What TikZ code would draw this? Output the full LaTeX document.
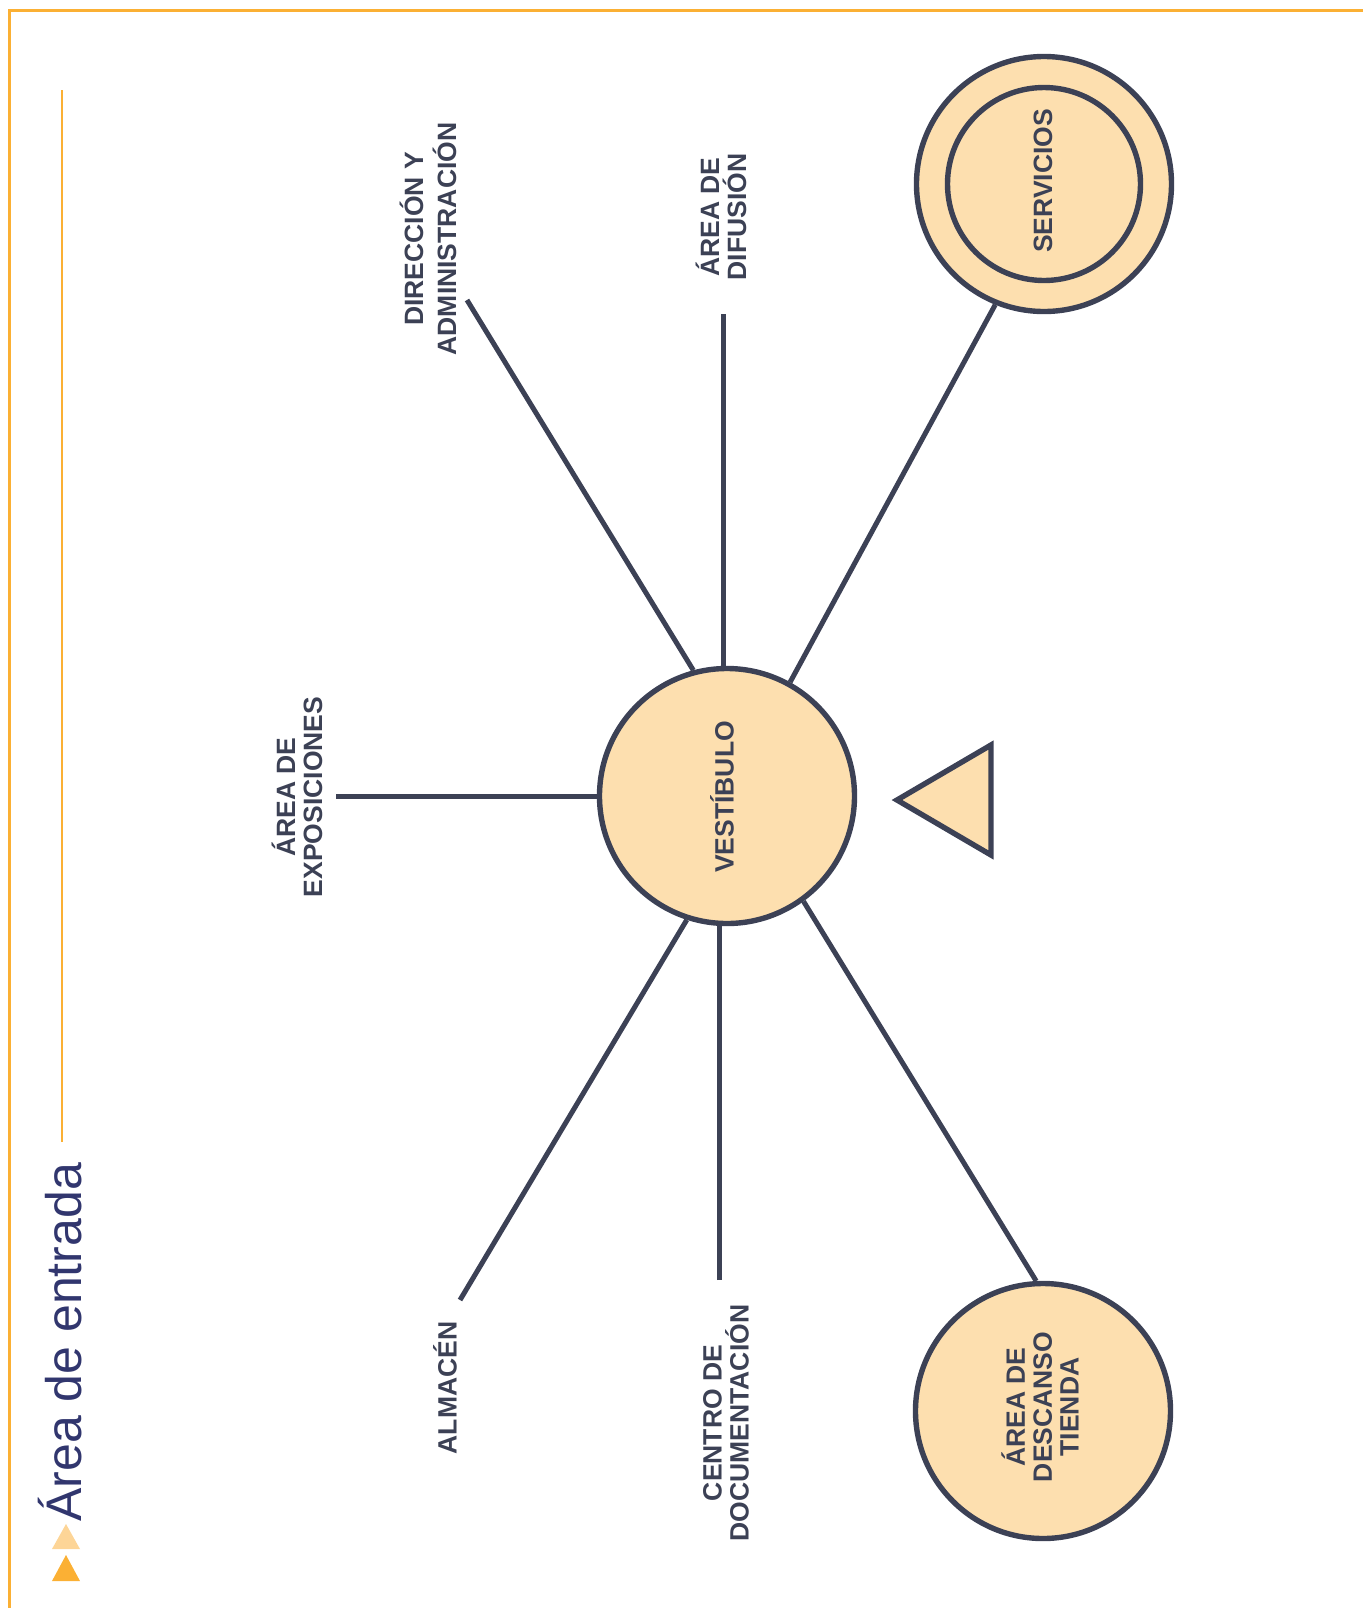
\documentclass[tikz,border=0pt]{standalone}
\usepackage{fontspec}
\setmainfont{Liberation Sans}
\usepackage{tikz}
\definecolor{navy}{HTML}{3C4155}
\definecolor{peach}{HTML}{FDDFAF}
\definecolor{amber}{HTML}{FBB034}
\definecolor{amberlt}{HTML}{FDD597}
\definecolor{titleblue}{HTML}{31366E}

\begin{document}
\begin{tikzpicture}[x=0.5pt, y=-0.5pt]
    \tikzstyle{room} = [circle, draw=navy, fill=peach, line width=2.7pt, inner sep=0pt, minimum size=127.5pt]
    \tikzstyle{lbl} = [text=navy, font=\fontsize{13.25}{13.4}\selectfont\bfseries, align=center, rotate=90, inner sep=0pt]
    \tikzstyle{link} = [draw=navy, line width=2.5pt]

    \useasboundingbox (0,0) rectangle (1363,1608);

    % Frame
    \draw[amber, line width=1.5pt] (9,1608) -- (9,10) -- (1363,10);
    \draw[amber, line width=1.2pt] (62,90) -- (62,1142);

    % Title
    \node[anchor=base west, rotate=90, inner sep=0pt, text=titleblue, font=\fontsize{25}{30}\selectfont] (title) at (82,1522) {Área de entrada};
    \fill[amberlt] (66,1524) -- (80,1549) -- (52,1549) -- cycle;
    \fill[amber] (66,1555) -- (80,1581) -- (52,1581) -- cycle;

    % Rooms
    \node[room] (vest) at (727,796) {};
    \node[room] (serv) at (1044,184) {};
    \node[room, minimum size=96.5pt] (servin) at (1044,184) {};
    \node[room] (desc) at (1043,1411) {};

    % Entrance
    \draw[navy, fill=peach, line width=2.7pt] (897,800) -- (991,745) -- (991,855) -- cycle;

    % Labels
    \node[lbl] (vestlbl) at (722,797) {VESTÍBULO};
    \node[lbl] (servlbl) at (1043,181) {SERVICIOS};
    \node[lbl] (desclbl) at (1040,1407) {ÁREA DE\\DESCANSO\\TIENDA};
    \node[lbl] (expolbl) at (297,797) {ÁREA DE\\EXPOSICIONES};
    \node[lbl] (dirlbl) at (428,239) {DIRECCIÓN Y\\[3pt]ADMINISTRACIÓN};
    \node[lbl] (diflbl) at (721,217) {ÁREA DE\\DIFUSIÓN};
    \node[lbl] (almlbl) at (445,1388) {ALMACÉN};
    \node[lbl] (cenlbl) at (726,1423) {CENTRO DE\\DOCUMENTACIÓN};

    % Free ends
    \coordinate (dirEnd) at (467,300);
    \coordinate (difEnd) at (723,314);
    \coordinate (expoEnd) at (336,796);
    \coordinate (almEnd) at (460,1300);
    \coordinate (cenEnd) at (719,1280);

    % Links
    \draw[link] (dirEnd) -- (vest.105);
    \draw[link] (difEnd) -- (difEnd |- vest.north);
    \draw[link] (serv.248) -- (vest.61);
    \draw[link] (expoEnd) -- (expoEnd -| vest.west);
    \draw[link] (almEnd) -- (vest.252);
    \draw[link] (cenEnd) -- (cenEnd |- vest.south);
    \draw[link] (desc.93) -- (vest.306);

\end{tikzpicture}
\end{document}
